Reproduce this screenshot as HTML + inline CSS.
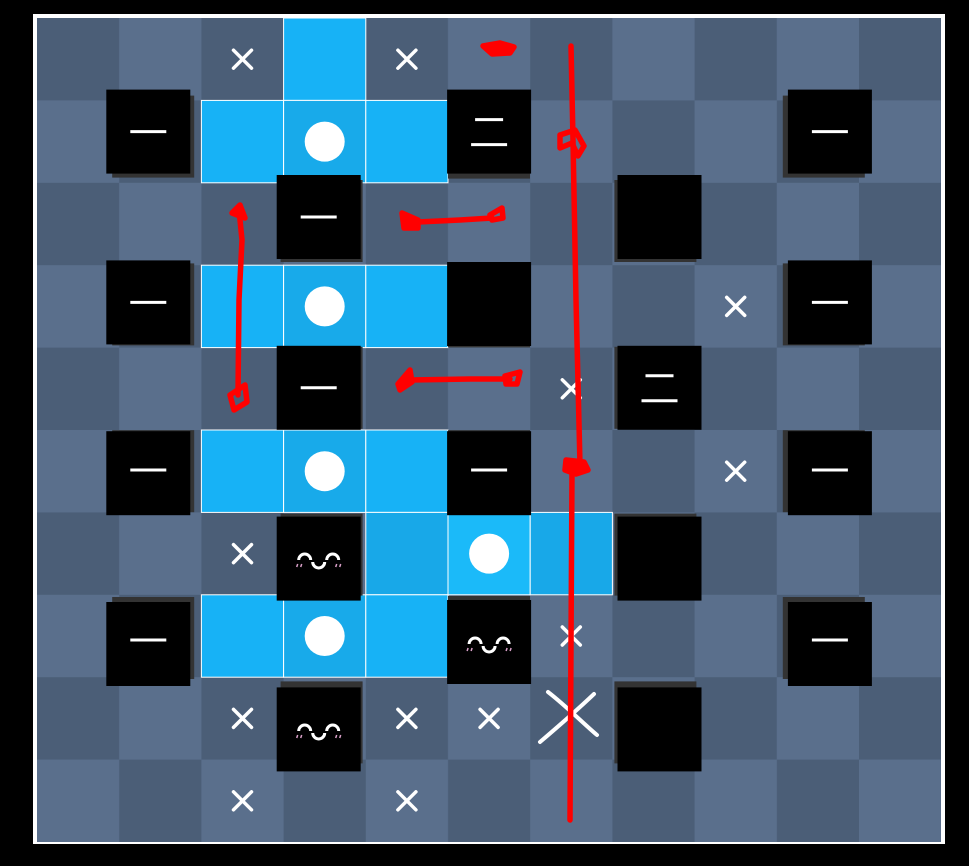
<!DOCTYPE html>
<html><head><meta charset="utf-8"><style>html,body{margin:0;padding:0;background:#000;}svg{display:block}</style></head>
<body>
<svg width="969" height="866" viewBox="0 0 969 866" xmlns="http://www.w3.org/2000/svg">
<defs>
<pattern id="ck" patternUnits="userSpaceOnUse" x="37" y="18" width="164.4" height="164.8">
<rect width="164.4" height="164.8" fill="#4b5e77"/>
<rect x="82.2" y="0" width="82.2" height="82.4" fill="#5a6f8c"/>
<rect x="0" y="82.4" width="82.2" height="82.4" fill="#5a6f8c"/>
</pattern>
<g id="dash"><line x1="-18" y1="0" x2="18" y2="0" stroke="#fff" stroke-width="3"/></g>
<g id="two"><line x1="-14" y1="-12" x2="14" y2="-12" stroke="#fff" stroke-width="3"/><line x1="-18" y1="13" x2="18" y2="13" stroke="#fff" stroke-width="3"/></g>
<g id="face" fill="none" stroke="#fff" stroke-width="3">
<path d="M-20,2 A6,6 0 0 1 -8,2"/><path d="M8,2 A6,6 0 0 1 20,2"/>
<path d="M-6,4 A6,6 0 0 0 6,4"/>
<g stroke="#d9a0c8" stroke-width="1.5"><line x1="-22" y1="9" x2="-21" y2="6"/><line x1="-18" y1="9" x2="-17" y2="6"/><line x1="17" y1="9" x2="18" y2="6"/><line x1="21" y1="9" x2="22" y2="6"/></g>
</g>
<g id="x"><path d="M-9,-9 L9,9 M9,-9 L-9,9" stroke="#fff" stroke-width="3.5" stroke-linecap="round"/></g>
</defs>
<rect x="33" y="14" width="912" height="830" fill="#fff"/>
<rect x="37" y="18" width="904" height="824" fill="url(#ck)"/>
<g fill="#17b2f6" stroke="#fff" stroke-width="1">
<rect x="283.6" y="18" width="82.2" height="82.4"/>
<rect x="201.4" y="100.4" width="82.2" height="82.4"/><rect x="283.6" y="100.4" width="82.2" height="82.4" fill="#18aaea"/><rect x="365.8" y="100.4" width="82.2" height="82.4"/>
<rect x="201.4" y="265.2" width="82.2" height="82.4"/><rect x="283.6" y="265.2" width="82.2" height="82.4" fill="#18aaea"/><rect x="365.8" y="265.2" width="82.2" height="82.4"/>
<rect x="201.4" y="430" width="82.2" height="82.4"/><rect x="283.6" y="430" width="82.2" height="82.4" fill="#18aaea"/><rect x="365.8" y="430" width="82.2" height="82.4"/>
<rect x="365.8" y="512.4" width="82.2" height="82.4" fill="#18a8e8"/><rect x="448" y="512.4" width="82.2" height="82.4" fill="#1bbaf9"/><rect x="530.2" y="512.4" width="82.2" height="82.4" fill="#18a8e8"/>
<rect x="201.4" y="594.8" width="82.2" height="82.4"/><rect x="283.6" y="594.8" width="82.2" height="82.4" fill="#18aaea"/><rect x="365.8" y="594.8" width="82.2" height="82.4"/>
</g>
<g fill="#fff">
<circle cx="324.7" cy="141.6" r="20"/><circle cx="324.7" cy="306.4" r="20"/><circle cx="324.7" cy="471.2" r="20"/><circle cx="489.1" cy="553.6" r="20"/><circle cx="324.7" cy="636" r="20"/>
</g>
<g fill="#333">
<rect x="112.2" y="95.6" width="82" height="82"/><rect x="448" y="96.6" width="82" height="82"/><rect x="782.8" y="95.6" width="82" height="82"/>
<rect x="280.6" y="180" width="82" height="82"/><rect x="614.4" y="180" width="82" height="82"/>
<rect x="112.2" y="263.4" width="82" height="82"/><rect x="448" y="265.4" width="82" height="82"/><rect x="782.8" y="263.4" width="82" height="82"/>
<rect x="280.6" y="346.8" width="82" height="82"/><rect x="614.4" y="346.8" width="82" height="82"/>
<rect x="112.2" y="430.2" width="82" height="82"/><rect x="448" y="430.2" width="82" height="82"/><rect x="782.8" y="430.2" width="82" height="82"/>
<rect x="280.6" y="513.6" width="82" height="82"/><rect x="614.4" y="513.6" width="82" height="82"/>
<rect x="112.2" y="597" width="82" height="82"/><rect x="448" y="596" width="82" height="82"/><rect x="782.8" y="597" width="82" height="82"/>
<rect x="280.6" y="681.4" width="82" height="82"/><rect x="614.4" y="681.4" width="82" height="82"/>
</g>
<g fill="#000">
<rect x="106.3" y="89.6" width="84" height="84"/><rect x="447.1" y="89.6" width="84" height="84"/><rect x="787.9" y="89.6" width="84" height="84"/>
<rect x="276.7" y="175" width="84" height="84"/><rect x="617.5" y="175" width="84" height="84"/>
<rect x="106.3" y="260.4" width="84" height="84"/><rect x="447.1" y="262" width="84" height="84"/><rect x="787.9" y="260.4" width="84" height="84"/>
<rect x="276.7" y="345.8" width="84" height="84"/><rect x="617.5" y="345.8" width="84" height="84"/>
<rect x="106.3" y="431.2" width="84" height="84"/><rect x="447.1" y="431.2" width="84" height="84"/><rect x="787.9" y="431.2" width="84" height="84"/>
<rect x="276.7" y="516.6" width="84" height="84"/><rect x="617.5" y="516.6" width="84" height="84"/>
<rect x="106.3" y="602" width="84" height="84"/><rect x="447.1" y="600" width="84" height="84"/><rect x="787.9" y="602" width="84" height="84"/>
<rect x="276.7" y="687.4" width="84" height="84"/><rect x="617.5" y="687.4" width="84" height="84"/>
</g>
<use href="#dash" x="148.3" y="131.6"/><use href="#two" x="489.1" y="131.6"/><use href="#dash" x="829.9" y="131.6"/>
<use href="#dash" x="318.7" y="217"/>
<use href="#dash" x="148.3" y="302.4"/><use href="#dash" x="829.9" y="302.4"/>
<use href="#dash" x="318.7" y="387.8"/><use href="#two" x="659.5" y="387.8"/>
<use href="#dash" x="148.3" y="470"/><use href="#dash" x="489.1" y="470"/><use href="#dash" x="829.9" y="470"/>
<use href="#face" x="318.7" y="558"/>
<use href="#dash" x="148.3" y="640"/><use href="#face" x="489.1" y="642"/><use href="#dash" x="829.9" y="640"/>
<use href="#face" x="318.7" y="729"/>
<use href="#x" x="242.5" y="59.2"/><use href="#x" x="406.9" y="59.2"/>
<use href="#x" x="735.7" y="306.4"/><use href="#x" x="571.3" y="388.8"/><use href="#x" x="735.7" y="471.2"/>
<use href="#x" x="242.5" y="553.6"/><use href="#x" x="571.3" y="636"/>
<use href="#x" x="242.5" y="718.4"/><use href="#x" x="406.9" y="718.4"/><use href="#x" x="489.1" y="718.4"/>
<use href="#x" x="242.5" y="800.8"/><use href="#x" x="406.9" y="800.8"/>
<path d="M548,692 C565,705 585,725 597,735 M594,694 C575,712 560,725 540,742" stroke="#fff" stroke-width="4" fill="none" stroke-linecap="round"/>
<g stroke="#f00" stroke-width="5.5" fill="none" stroke-linecap="round" stroke-linejoin="round">
<path d="M571,46 L573,140 L576,300 L580,465 L572,470 L570,820"/>
<path d="M560,135 L575,130 L584,146 L578,156 L572,143 L560,148 Z"/>
<path d="M566,460 L584,462 L588,470 L576,474 L565,470 Z" fill="#f00"/>
<path d="M483,46 L500,43 L514,47 L510,53 L492,54 Z" fill="#f00"/>
<path d="M239,210 L242,240 L239,300 L238,395"/>
<path d="M232,213 L240,205 L245,218 Z" fill="#f00"/>
<path d="M230,395 L245,385 L247,402 L234,410 Z"/>
<path d="M402,213 L418,220 L418,228 L404,228 Z" fill="#f00"/>
<path d="M418,222 L460,220 L492,218"/>
<path d="M490,215 L502,208 L503,218 L492,220 Z"/>
<path d="M398,384 L410,370 L412,382 L400,390 Z" fill="#f00"/>
<path d="M410,380 L470,379 L510,379"/>
<path d="M505,376 L520,372 L517,384 L506,384 Z"/>
</g>
</svg>
</body></html>
